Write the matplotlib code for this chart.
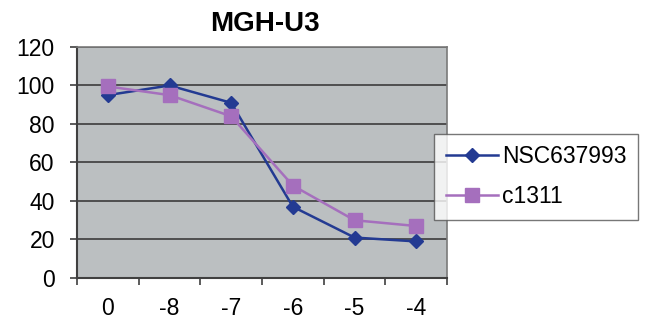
import matplotlib.pyplot as plt
import numpy as np

plt.rcParams['font.family'] = ['Liberation Sans', 'DejaVu Sans']

categories = ["0", "-8", "-7", "-6", "-5", "-4"]
nsc637993 = [95, 100, 91, 37, 21, 19]
c1311 = [99.5, 95, 84, 48, 30, 27]

fig = plt.figure(figsize=(6.47, 3.24), dpi=100)
ax = fig.add_axes([0.119, 0.142, 0.572, 0.713])
ax.set_facecolor("#bbbfc1")

x = np.arange(len(categories))
ax.plot(x, nsc637993, color="#233a92", marker="D", markersize=7.5, linewidth=1.8,
        label="NSC637993", zorder=3)
ax.plot(x, c1311, color="#a56fbd", marker="s", markersize=10, linewidth=1.8,
        label="c1311", zorder=3)

ax.set_ylim(0, 120)
ax.set_yticks(range(0, 121, 20))
ax.set_xlim(-0.5, len(categories) - 0.5)
ax.set_xticks(x)
ax.set_xticklabels(categories)
ax.set_xticks(np.arange(-0.5, len(categories), 1), minor=True)

ax.grid(axis="y", color="#3c3c3c", linewidth=1.2)
ax.set_axisbelow(True)

ax.tick_params(axis="x", which="major", length=0, pad=14, labelsize=16.5)
ax.tick_params(axis="x", which="minor", length=5, width=1.2, color="#404040", direction="out")
ax.tick_params(axis="y", length=5, width=1.2, color="#404040", labelsize=16.5, pad=11)

for side in ["left", "bottom"]:
    ax.spines[side].set_color("#404040")
    ax.spines[side].set_linewidth(1.5)
for side in ["top", "right"]:
    ax.spines[side].set_color("#7a7a7a")
    ax.spines[side].set_linewidth(1.2)

fig.text(0.41, 0.926, "MGH-U3", ha="center", va="center", fontsize=20, fontweight="bold")

leg = fig.legend(loc="upper left", bbox_to_anchor=(0.671, 0.587), fontsize=16.5,
                 frameon=True, fancybox=False, edgecolor="#555555",
                 handlelength=2.3, handletextpad=0.15, borderpad=0.5,
                 labelspacing=0.75, borderaxespad=0)
leg.get_frame().set_linewidth(1.0)

fig.savefig("out.png", dpi=100)
